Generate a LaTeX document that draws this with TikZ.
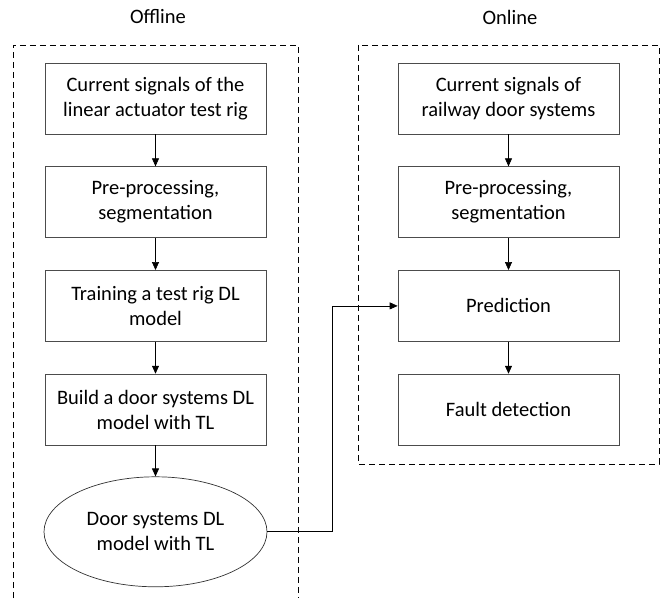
\documentclass[tikz,border=0pt]{standalone}
\usepackage{fontspec}
\setmainfont{Carlito}
\usetikzlibrary{positioning,arrows.meta,shapes.geometric}

\begin{document}
\begin{tikzpicture}[x=1pt,y=1pt,
    font=\fontsize{20.5}{25}\selectfont,
    stage/.style={draw=black!70,line width=0.7pt,rectangle,minimum width=221pt,minimum height=71pt,align=center,inner sep=0pt},
    result/.style={draw=black!80,line width=0.7pt,ellipse,minimum width=223pt,minimum height=110pt,align=center,inner sep=0pt},
    frame/.style={line width=0.7pt,dash pattern=on 6pt off 4pt},
    flow/.style={-{Triangle[length=8pt,width=7pt]},line width=0.7pt},
    node distance=32pt]
    \useasboundingbox (0,0) rectangle (667,598);

    \node (offline) at (158,581) {Offline};
    \node (online) at (510,581) {Online};

    \node[stage] (rigsig) at (155.5,499.5) {Current signals of the\\linear actuator test rig};
    \node[stage,below=of rigsig] (rigpre) {Pre-processing,\\segmentation};
    \node[stage,below=of rigpre] (train) {Training a test rig DL\\model};
    \node[stage,below=of train] (build) {Build a door systems DL\\model with TL};
    \node[result,below=31pt of build] (model) {Door systems DL\\model with TL};

    \node[stage] (doorsig) at (508.5,499.5) {Current signals of\\railway door systems};
    \node[stage,below=of doorsig] (doorpre) {Pre-processing,\\segmentation};
    \node[stage,below=of doorpre] (pred) {Prediction};
    \node[stage,below=of pred] (fault) {Fault detection};

    \draw[frame] (13,0) -- (13,553) -- (298,553) -- (298,0);
    \draw[frame] (358,553) rectangle (659,134);

    \draw[flow] (rigsig) -- (rigpre);
    \draw[flow] (rigpre) -- (train);
    \draw[flow] (train) -- (build);
    \draw[flow] (build) -- (model);
    \draw[flow] (doorsig) -- (doorpre);
    \draw[flow] (doorpre) -- (pred);
    \draw[flow] (pred) -- (fault);
    \draw[flow] (model.east) -- ++(65,0) |- (pred.west);

\end{tikzpicture}
\end{document}
